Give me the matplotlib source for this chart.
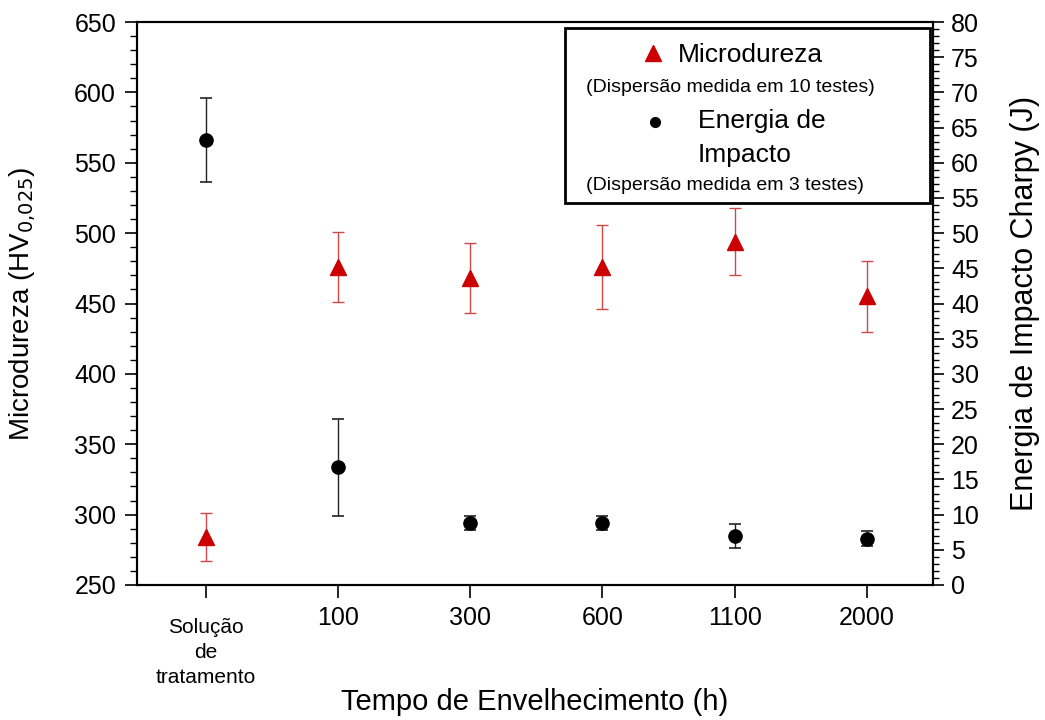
import matplotlib
matplotlib.use("Agg")
import matplotlib.pyplot as plt
import matplotlib.transforms as mtransforms
from matplotlib.patches import Rectangle
from matplotlib.ticker import MultipleLocator

# -----------------------------
# DATA
# -----------------------------
categories = ["Solução\nde\ntratamento", "100", "300", "600", "1100", "2000"]

hardness     = [284, 476, 468, 476, 494, 455]   # HV0,025
hardness_err = [17, 25, 25, 30, 24, 25]

impact     = [63.2, 16.7, 8.85, 8.85, 6.9, 6.6]  # J
impact_err = [6.0, 6.9, 1.0, 1.0, 1.7, 1.1]

RED = "#cc0000"
FONT = "Liberation Sans"

plt.rcParams["font.family"] = [FONT, "DejaVu Sans"]

# -----------------------------
# FIGURE
# -----------------------------
fig = plt.figure(figsize=(10.45, 7.2), dpi=100)
ax = fig.add_axes([0.131, 0.1875, 0.762, 0.7819])
ax2 = ax.twinx()

x = list(range(len(categories)))

ax.errorbar(x, hardness, yerr=hardness_err, fmt="^", color=RED,
            ecolor="#d04848", elinewidth=1, capsize=4, capthick=1,
            markersize=11, zorder=3)
ax2.errorbar(x, impact, yerr=impact_err, fmt="o", color="black",
             ecolor="#222222", elinewidth=1, capsize=4, capthick=1.2,
             markersize=9.5, zorder=3)

# left axis
ax.set_xlim(-0.52, 5.5)
ax.set_ylim(250, 650)
ax.yaxis.set_major_locator(MultipleLocator(50))
ax.yaxis.set_minor_locator(MultipleLocator(10))
ax.tick_params(axis="y", which="major", direction="out", length=9, width=1.2,
               labelsize=18, pad=6)
ax.tick_params(axis="y", which="minor", direction="out", length=5, width=1.0)
ax.set_ylabel("Microdureza (HV$_{0{,}025}$)", fontsize=20)
ax.yaxis.set_label_coords(-0.124, 0.5)

# right axis
ax2.set_ylim(0, 80)
ax2.yaxis.set_major_locator(MultipleLocator(5))
ax2.yaxis.set_minor_locator(MultipleLocator(1))
ax2.tick_params(axis="y", which="major", direction="out", length=8, width=1.2,
                labelsize=18, pad=5)
ax2.tick_params(axis="y", which="minor", direction="out", length=4, width=1.0)
ax2.set_ylabel("Energia de Impacto Charpy (J)", fontsize=22, labelpad=22)

# x axis
ax.set_xticks(x)
ax.set_xticklabels(categories)
ax.tick_params(axis="x", direction="out", length=9, width=1.2, labelsize=18,
               pad=6)
first = ax.get_xticklabels()[0]
first.set_fontsize(15)
first.set_linespacing(1.4)
first.set_transform(first.get_transform() +
                    mtransforms.ScaledTranslation(0, -9 / 72, fig.dpi_scale_trans))
ax.set_xlabel("Tempo de Envelhecimento (h)", fontsize=21)
ax.xaxis.set_label_coords(0.5, -0.183)

for a in (ax, ax2):
    for s in a.spines.values():
        s.set_linewidth(1.5)

# -----------------------------
# LEGEND BOX (figure pixel coords)
# -----------------------------
W, H = 1045, 720


def fp(px, py):
    return px / W, 1 - py / H


x0, y0 = fp(565, 203)
x1, y1 = fp(930, 28)
fig.patches.append(Rectangle((x0, y0), x1 - x0, y1 - y0, transform=fig.transFigure,
                             facecolor="white", edgecolor="black", lw=2,
                             zorder=5))

tx, ty = fp(653, 53)
fig.lines.append(plt.Line2D([tx], [ty], marker="^", color=RED, markersize=11,
                            transform=fig.transFigure, zorder=6))
cx, cy = fp(655, 122)
fig.lines.append(plt.Line2D([cx], [cy], marker="o", color="black", markersize=7,
                            transform=fig.transFigure, zorder=6))

legend_texts = [
    (678, 55, "Microdureza", 19, "left"),
    (730, 88, "(Dispersão medida em 10 testes)", 14, "center"),
    (698, 121, "Energia de", 19, "left"),
    (698, 155, "Impacto", 19, "left"),
    (725, 185, "(Dispersão medida em 3 testes)", 14, "center"),
]
for px, py, txt, size, ha in legend_texts:
    fx, fy = fp(px, py)
    fig.text(fx, fy, txt, fontsize=size, ha=ha, va="center", zorder=7)

fig.savefig("out.png", dpi=100)
